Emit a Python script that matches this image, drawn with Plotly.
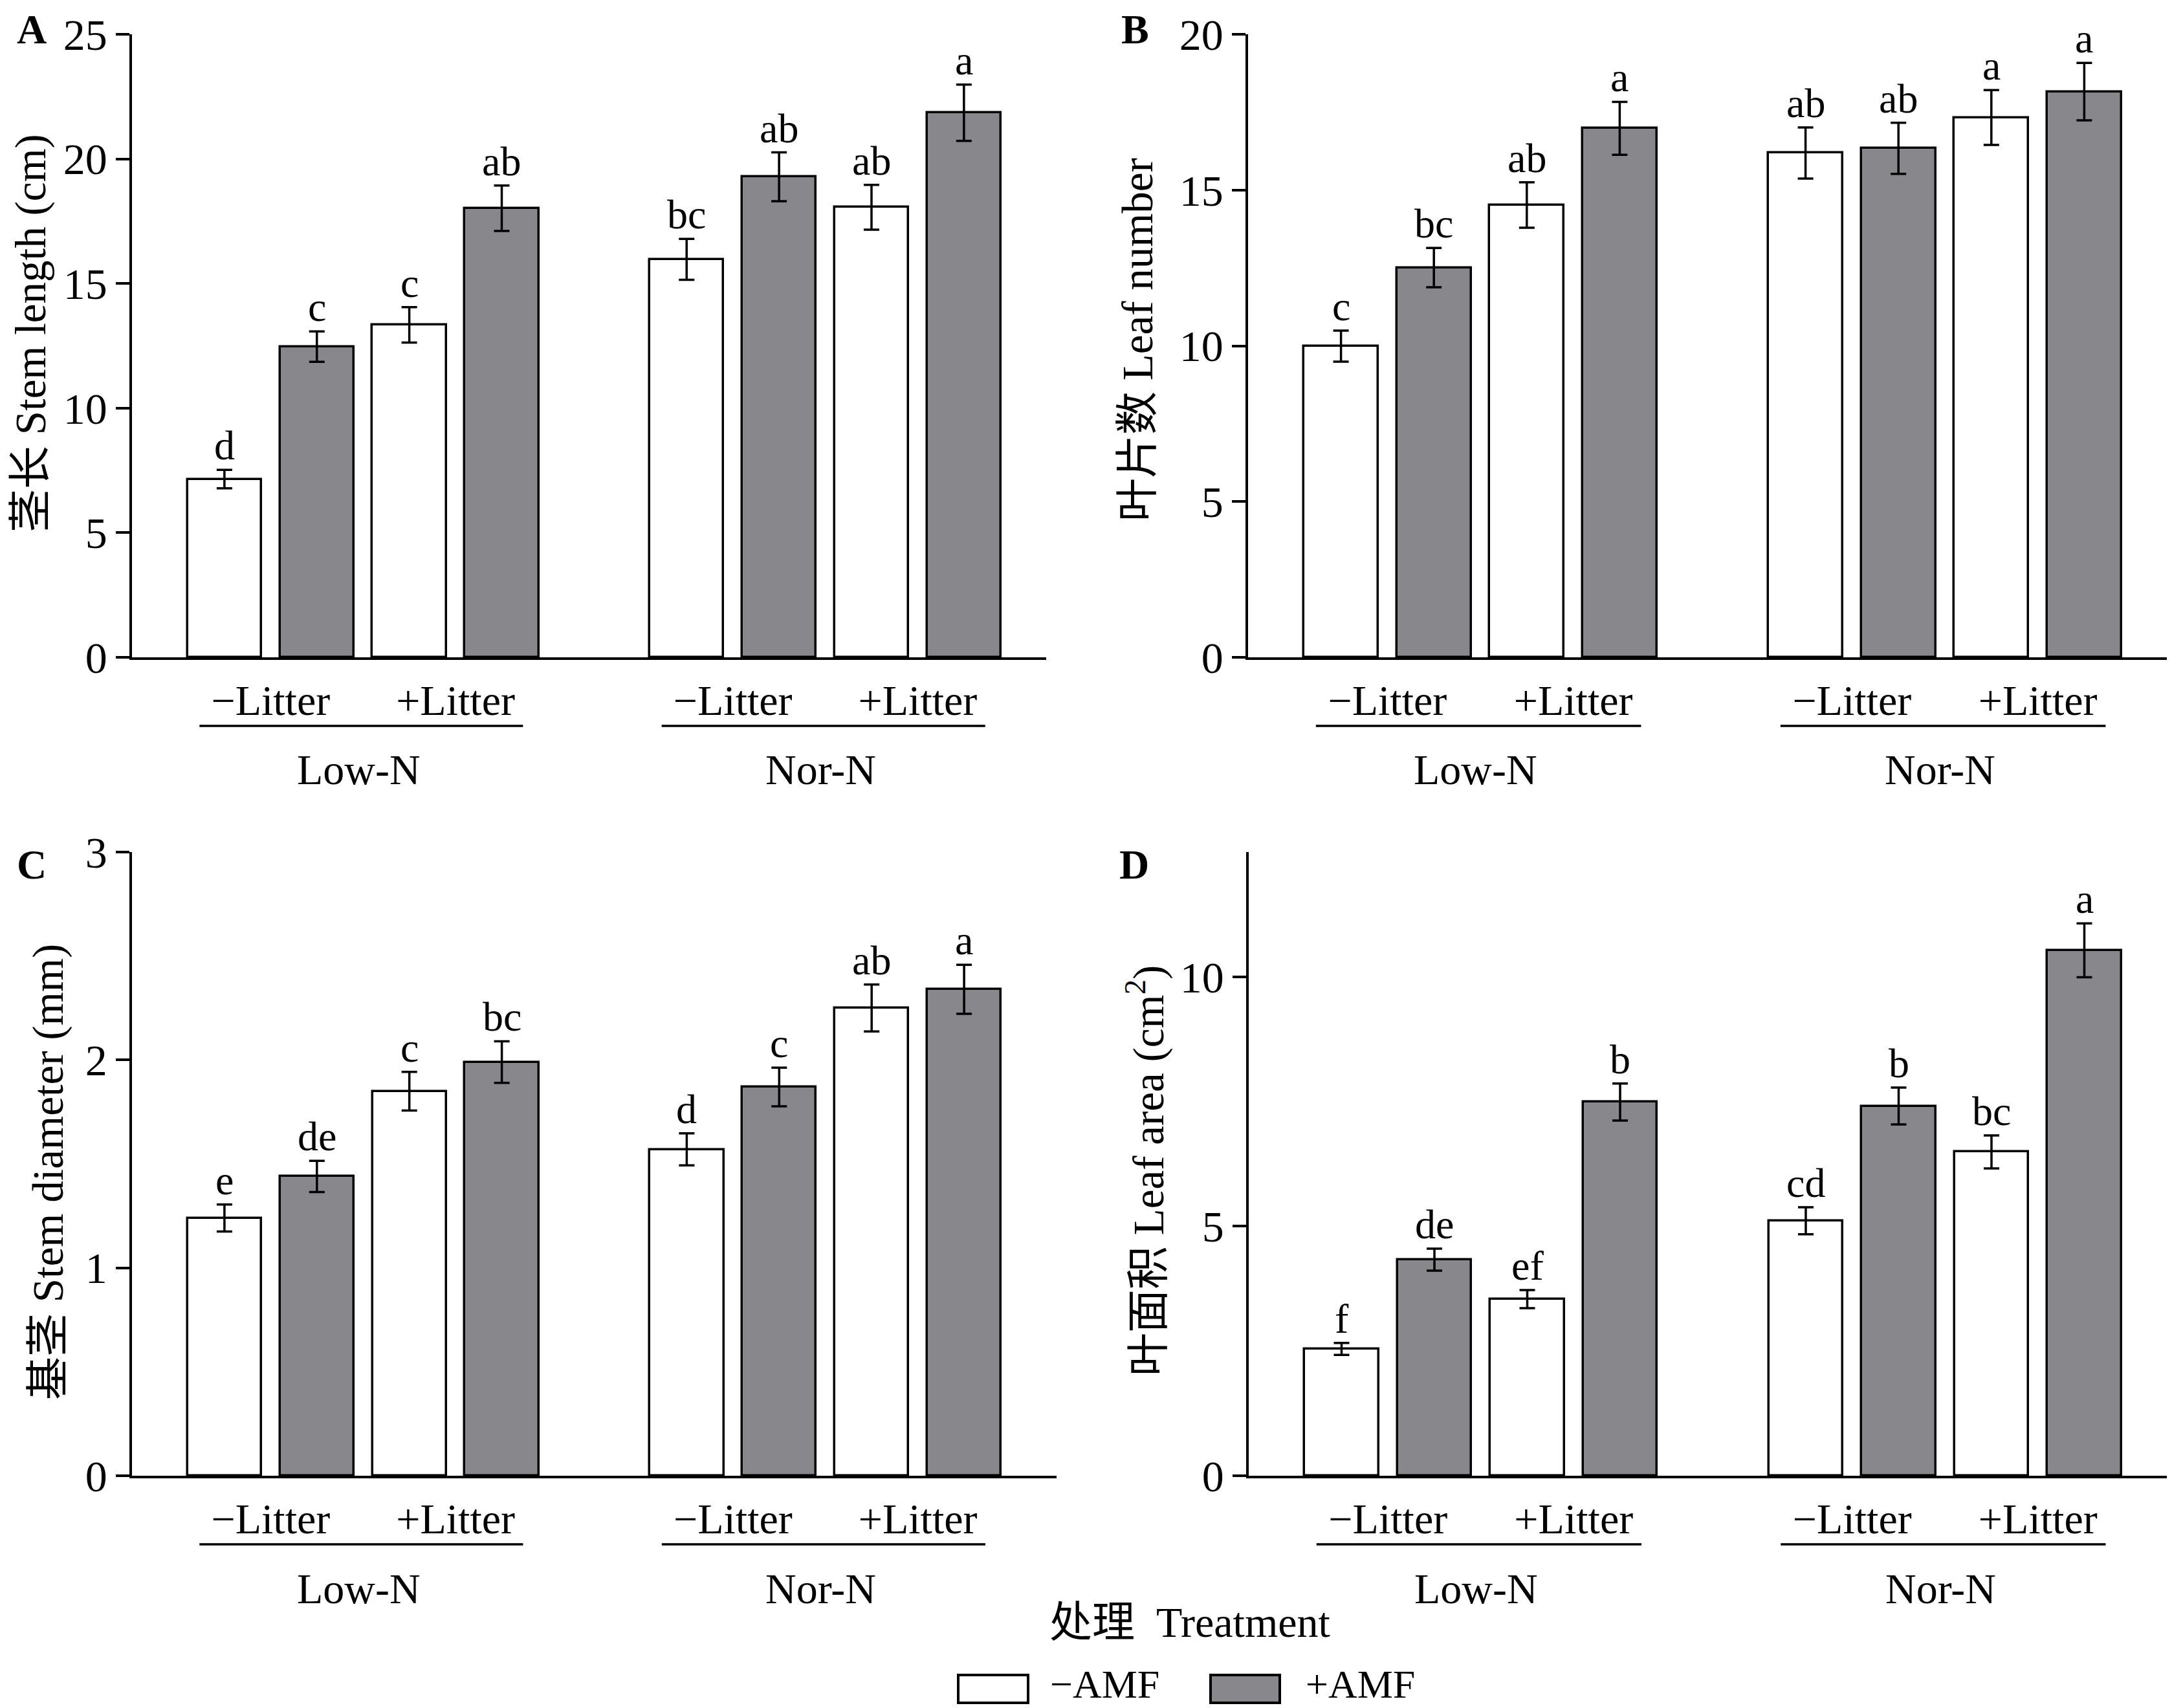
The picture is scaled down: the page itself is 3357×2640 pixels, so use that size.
import plotly.graph_objects as go

# order of treatments: Low-N -Litter, Low-N +Litter, Nor-N -Litter, Nor-N +Litter
litter_labels = ["−Litter", "+Litter", "−Litter", "+Litter"]
n_levels = ["Low-N", "Nor-N"]
amf_labels = ["−AMF", "+AMF"]

# A  stem length (cm)
stem_len_noamf = [7.15, 13.34, 15.97, 18.06]
stem_len_amf = [12.47, 18.02, 19.28, 21.85]
stem_len_noamf_se = [0.37, 0.71, 0.82, 0.90]
stem_len_amf_se = [0.61, 0.91, 0.98, 1.13]
stem_len_noamf_sig = ["d", "c", "bc", "ab"]
stem_len_amf_sig = ["c", "ab", "ab", "a"]

# B  leaf number
leaf_num_noamf = [9.99, 14.52, 16.19, 17.33]
leaf_num_amf = [12.51, 16.98, 16.34, 18.16]
leaf_num_noamf_se = [0.50, 0.73, 0.82, 0.88]
leaf_num_amf_se = [0.63, 0.85, 0.82, 0.92]
leaf_num_noamf_sig = ["c", "ab", "ab", "a"]
leaf_num_amf_sig = ["bc", "a", "ab", "a"]

# C  stem diameter (mm)
stem_dia_noamf = [1.24, 1.85, 1.57, 2.25]
stem_dia_amf = [1.44, 1.99, 1.87, 2.34]
stem_dia_noamf_se = [0.065, 0.093, 0.077, 0.113]
stem_dia_amf_se = [0.075, 0.10, 0.093, 0.118]
stem_dia_noamf_sig = ["e", "c", "d", "ab"]
stem_dia_amf_sig = ["de", "bc", "c", "a"]

# D  leaf area (cm2)
leaf_area_noamf = [2.54, 3.54, 5.11, 6.49]
leaf_area_amf = [4.33, 7.49, 7.41, 10.53]
leaf_area_noamf_se = [0.12, 0.18, 0.27, 0.33]
leaf_area_amf_se = [0.22, 0.37, 0.37, 0.54]
leaf_area_noamf_sig = ["f", "ef", "cd", "bc"]
leaf_area_amf_sig = ["de", "b", "b", "a"]

W, H = 3357, 2640
FONT = "Liberation Serif, Times New Roman, Noto Sans CJK SC"
GRAY = "#88878c"

panels = [
    dict(tag="A", title="茎长 Stem length (cm)",
         vals=(stem_len_noamf, stem_len_amf), se=(stem_len_noamf_se, stem_len_amf_se),
         sig=(stem_len_noamf_sig, stem_len_amf_sig),
         yrange=[0, 25], ticks=[0, 5, 10, 15, 20, 25],
         xdom=[196 / W, 1609 / W], xmax=9.89, ydom=[1 - 1008 / H, 1 - 45 / H],
         title_xy=(40, 507), tag_x=41, tag_top=0),
    dict(tag="B", title="叶片数 Leaf number",
         vals=(leaf_num_noamf, leaf_num_amf), se=(leaf_num_noamf_se, leaf_num_amf_se),
         sig=(leaf_num_noamf_sig, leaf_num_amf_sig),
         yrange=[0, 20], ticks=[0, 5, 10, 15, 20],
         xdom=[1921 / W, 1.0], xmax=10.0, ydom=[1 - 1008 / H, 1 - 45 / H],
         title_xy=(1750, 517), tag_x=1747, tag_top=0),
    dict(tag="C", title="基茎 Stem diameter (mm)",
         vals=(stem_dia_noamf, stem_dia_amf), se=(stem_dia_noamf_se, stem_dia_amf_se),
         sig=(stem_dia_noamf_sig, stem_dia_amf_sig),
         yrange=[0, 3], ticks=[0, 1, 2, 3],
         xdom=[196 / W, 1625 / W], xmax=10.0, ydom=[1 - 2273 / H, 1 - 1309 / H],
         title_xy=(66, 1804), tag_x=41, tag_top=1291),
    dict(tag="D", title="叶面积 Leaf area (cm<sup>2</sup>)",
         vals=(leaf_area_noamf, leaf_area_amf), se=(leaf_area_noamf_se, leaf_area_amf_se),
         sig=(leaf_area_noamf_sig, leaf_area_amf_sig),
         yrange=[0, 12.5], ticks=[0, 5, 10],
         xdom=[1922 / W, 1.0], xmax=10.0, ydom=[1 - 2273 / H, 1 - 1309 / H],
         title_xy=(1762, 1802), tag_x=1745, tag_top=1291),
]

fig = go.Figure()
annotations = []
shapes = []

for k, p in enumerate(panels):
    n = "" if k == 0 else str(k + 1)
    xa, ya = "x" + n, "y" + n
    dom_px = (p["ydom"][1] - p["ydom"][0]) * H
    # bar positions: each treatment pair side by side, gap between N levels
    base = [1 + 2 * i + (1 if i >= 2 else 0) for i in range(4)]
    for j in range(2):
        xs = [b + j for b in base]
        fig.add_trace(go.Bar(
            x=xs, y=p["vals"][j], width=0.8, xaxis=xa, yaxis=ya,
            marker=dict(color="white" if j == 0 else GRAY,
                        line=dict(color="black", width=3.5)),
            error_y=dict(type="data", array=p["se"][j], color="black",
                         thickness=3.5, width=12),
            showlegend=False))
        for xi, v, e, s in zip(xs, p["vals"][j], p["se"][j], p["sig"][j]):
            annotations.append(dict(x=xi, y=v + e, xref=xa, yref=ya, text=s,
                                    showarrow=False, yanchor="bottom", yshift=0,
                                    font=dict(size=64)))
    # nitrogen level labels and the line over them
    for g, lvl in enumerate(n_levels):
        c = 2.48 + 5 * g
        shapes.append(dict(type="line", xref=xa, yref=ya + " domain",
                           x0=c - 1.75, x1=c + 1.75,
                           y0=-106 / dom_px, y1=-106 / dom_px,
                           line=dict(color="black", width=3.5)))
        annotations.append(dict(x=c - 0.03, y=-174 / dom_px, xref=xa,
                                yref=ya + " domain", text=lvl,
                                showarrow=False, yanchor="middle",
                                font=dict(size=66)))
    layout_x = dict(domain=p["xdom"], range=[0, p["xmax"]], anchor=ya,
                    showline=True, linecolor="black", linewidth=3.5,
                    tickvals=[1.5, 3.5, 6.5, 8.5], ticktext=litter_labels,
                    ticks="", showgrid=False, zeroline=False, automargin=False,
                    ticklabelstandoff=6, tickfont=dict(size=66))
    layout_y = dict(domain=p["ydom"], range=p["yrange"], anchor=xa,
                    showline=True, linecolor="black", linewidth=3.5,
                    tickvals=p["ticks"], ticks="outside", ticklen=21,
                    tickwidth=3.5, tickcolor="black", showgrid=False,
                    zeroline=False, automargin=False, tickfont=dict(size=68))
    fig.update_layout({"xaxis" + n: layout_x, "yaxis" + n: layout_y})
    tx, ty = p["title_xy"]
    annotations.append(dict(x=tx / W, y=1 - ty / H, xref="paper", yref="paper",
                            text=p["title"], textangle=-90, showarrow=False,
                            xanchor="center", yanchor="middle", font=dict(size=67)))
    # panel letter
    annotations.append(dict(x=p["tag_x"] / W, y=1 - p["tag_top"] / H, xref="paper",
                            yref="paper", text="<b>" + p["tag"] + "</b>",
                            showarrow=False, xanchor="center", yanchor="top",
                            font=dict(size=64)))

# shared x title and legend
annotations.append(dict(x=1831 / W, y=1 - 2499 / H, xref="paper", yref="paper",
                        text="处理  Treatment", showarrow=False,
                        xanchor="center", yanchor="middle", font=dict(size=66)))
legend_boxes = [(1473, 1581, "white"), (1863, 1970, GRAY)]
legend_text_x = [1613, 2008]
for (x0, x1, col), lbl, lx in zip(legend_boxes, amf_labels, legend_text_x):
    shapes.append(dict(type="rect", xref="paper", yref="paper",
                       x0=x0 / W, x1=x1 / W, y0=1 - 2624 / H, y1=1 - 2581 / H,
                       fillcolor=col, line=dict(color="black", width=4)))
    annotations.append(dict(x=lx / W, y=1 - 2595 / H, xref="paper", yref="paper",
                            text=lbl, showarrow=False, xanchor="left",
                            yanchor="middle", font=dict(size=62)))

fig.update_layout(
    width=W, height=H, autosize=False,
    margin=dict(l=0, r=0, t=0, b=0, pad=0, autoexpand=False),
    paper_bgcolor="white", plot_bgcolor="white",
    font=dict(family=FONT, color="black", size=62),
    bargap=0, annotations=annotations, shapes=shapes,
)

fig.write_html("out.html")
